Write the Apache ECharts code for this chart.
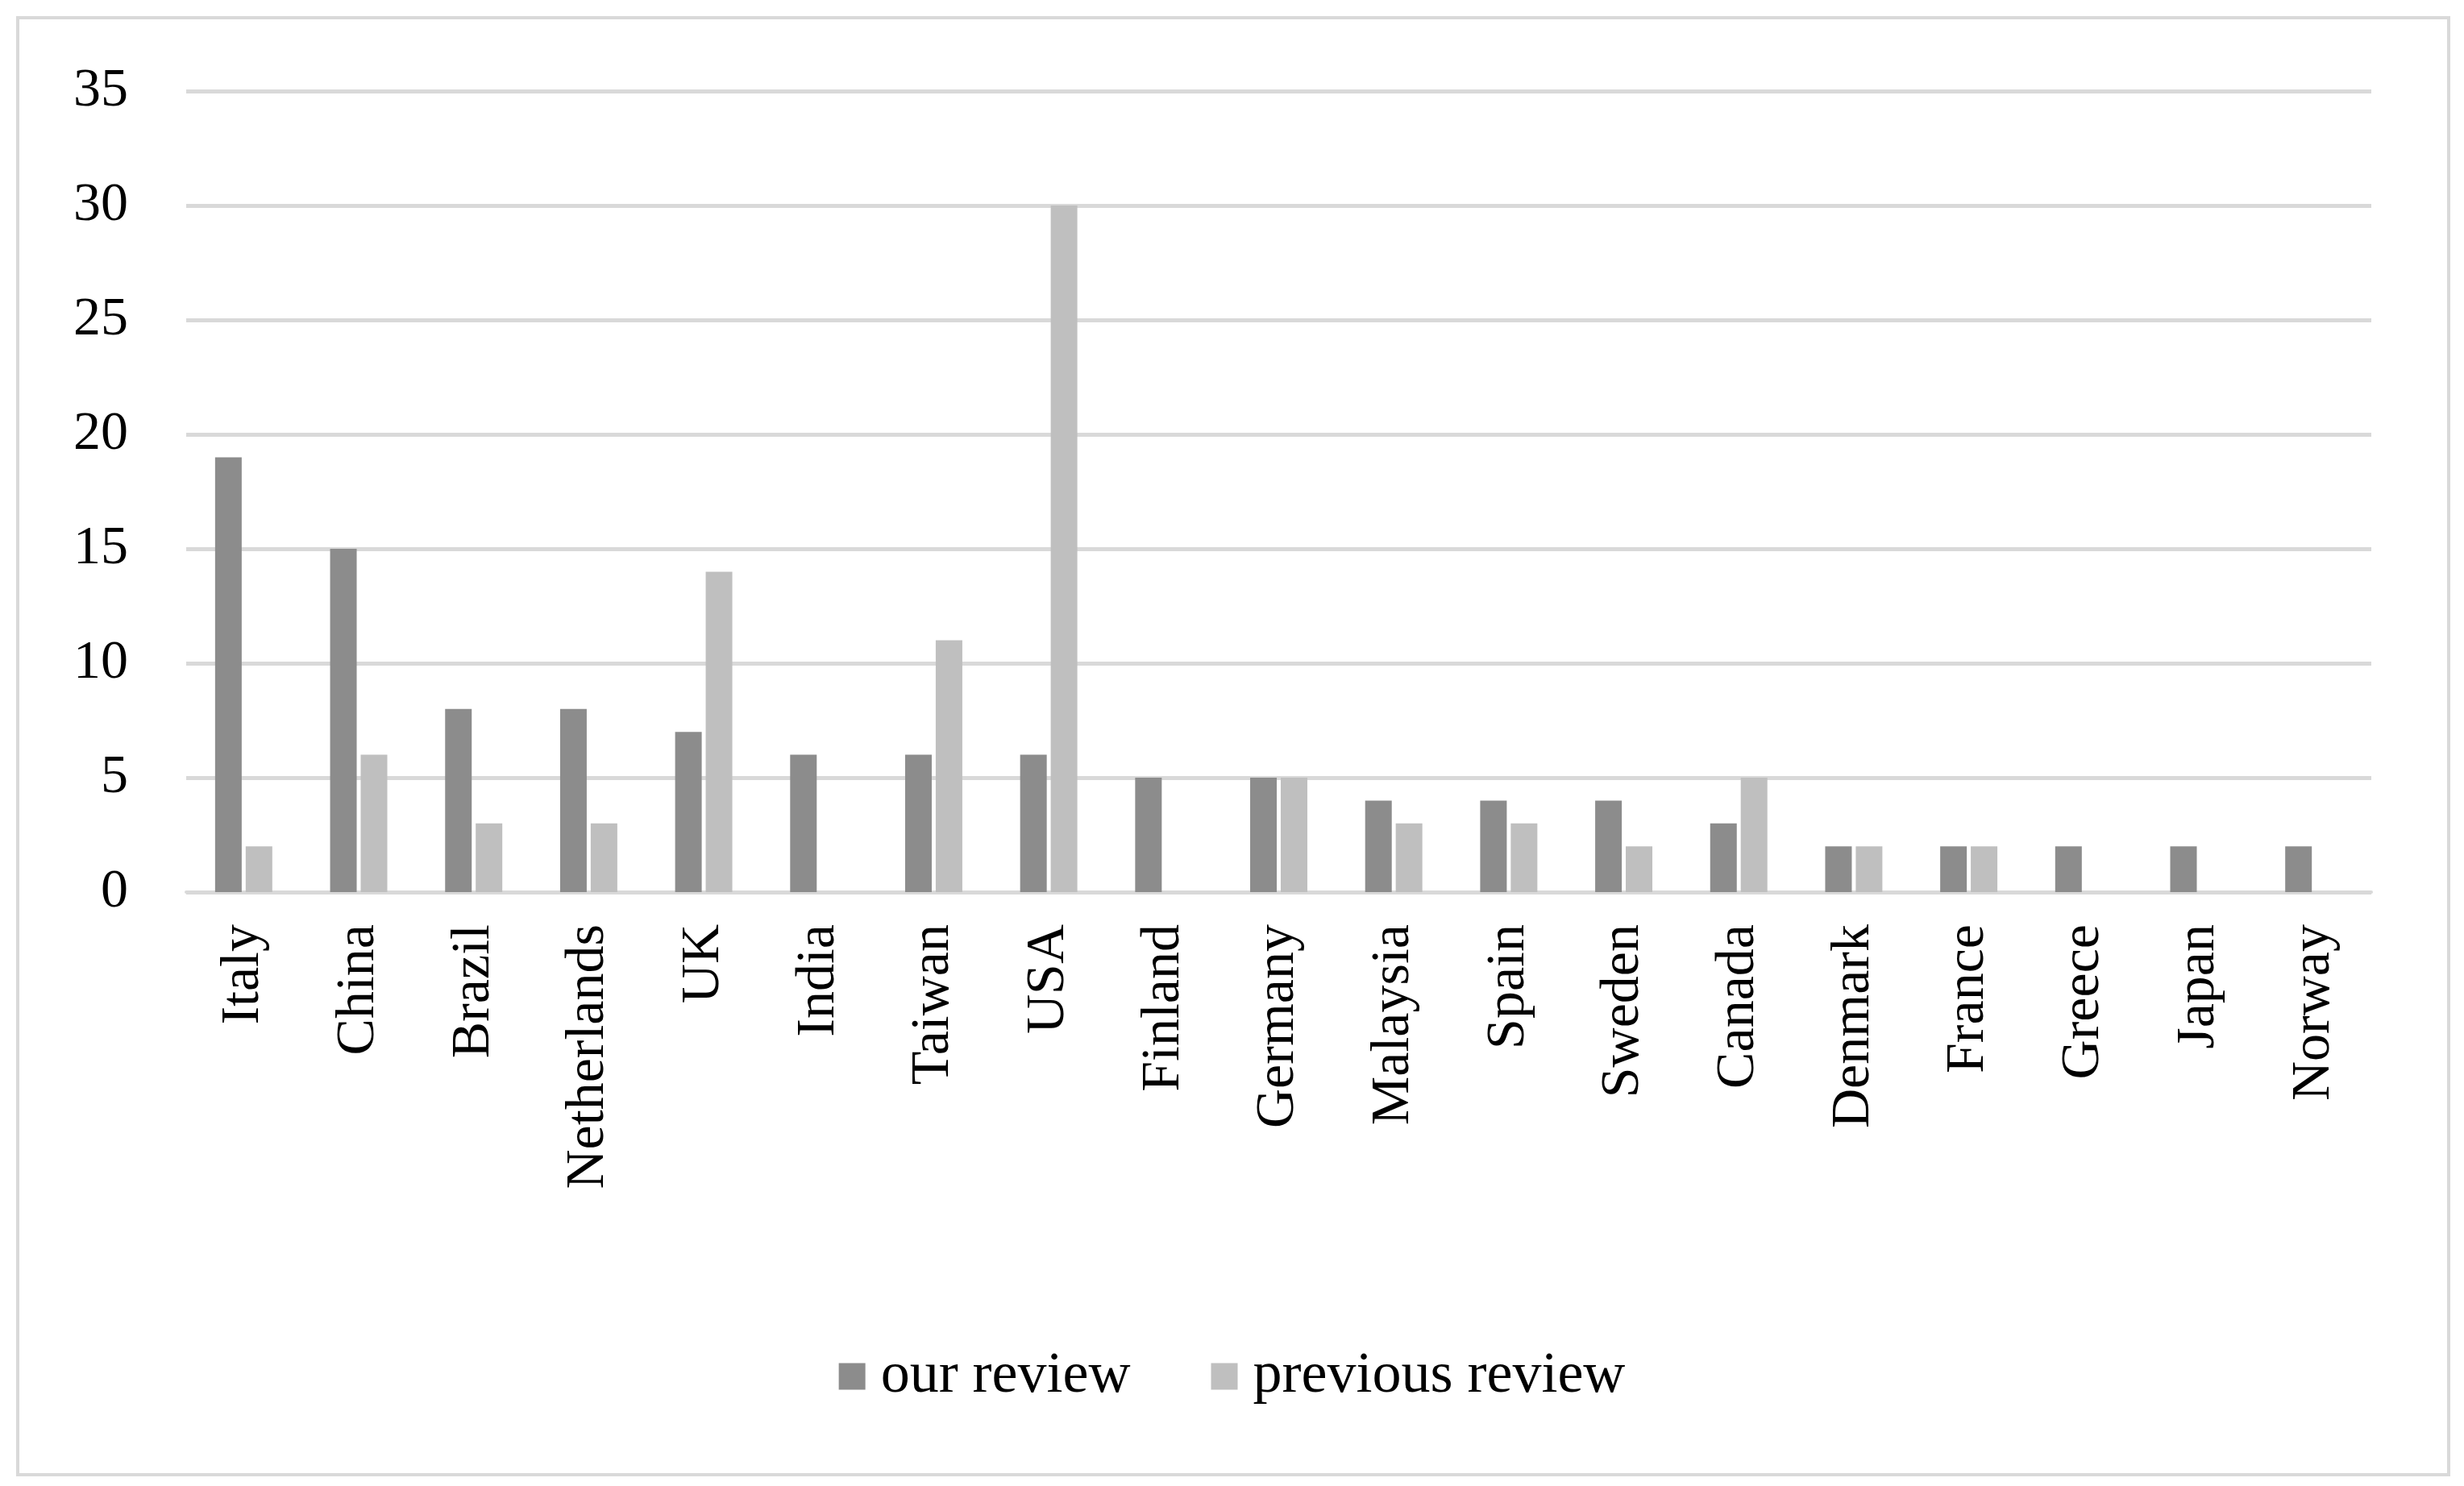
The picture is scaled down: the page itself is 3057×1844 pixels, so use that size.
<!DOCTYPE html>
<html><head><meta charset="utf-8">
<script src="https://cdn.jsdelivr.net/npm/echarts@6/dist/echarts.min.js"></script>
<style>html,body{margin:0;padding:0;background:#fff}#c{width:3057px;height:1844px}
#frame{position:absolute;left:20px;top:20px;width:3012px;height:1804px;border:4px solid #d9d9d9;pointer-events:none}</style>
</head><body><div id="c"></div><div id="frame"></div>
<script>
const categories=["Italy","China","Brazil","Netherlands","UK","India","Taiwan","USA","Finland","Germany","Malaysia","Spain","Sweden","Canada","Denmark","France","Greece","Japan","Norway"];
const ourReview=[19,15,8,8,7,6,6,6,5,5,4,4,4,3,2,2,2,2,2];
const previousReview=[2,6,3,3,14,null,11,30,null,5,3,3,2,5,2,2,null,null,null];
const yTicks={min:0,max:35,interval:5};
const font='"Liberation Serif","DejaVu Serif",serif';
const chart=echarts.init(document.getElementById('c'));
chart.setOption({
 animation:false,
 textStyle:{fontFamily:font},
 grid:{left:231,right:115,top:113,bottom:737},
 legend:{bottom:95,left:'center',itemWidth:33,itemHeight:33,itemGap:100,icon:'rect',
  textStyle:{fontFamily:font,fontSize:72,color:'#000',padding:[0,0,0,14]}},
 xAxis:{type:'category',data:categories,
  axisLine:{lineStyle:{color:'#d9d9d9',width:4}},axisTick:{show:false},
  axisLabel:{rotate:90,fontFamily:font,fontSize:68,color:'#000',margin:40,interval:0}},
 yAxis:{type:'value',min:yTicks.min,max:yTicks.max,interval:yTicks.interval,
  axisLine:{show:false},axisTick:{show:false},
  splitLine:{lineStyle:{color:'#d9d9d9',width:5}},
  axisLabel:{fontFamily:font,fontSize:68,color:'#000',margin:72}},
 series:[
  {name:'our review',type:'bar',data:ourReview,barWidth:33,barGap:'15%',itemStyle:{color:'#8c8c8c'}},
  {name:'previous review',type:'bar',data:previousReview,barWidth:33,itemStyle:{color:'#bfbfbf'}}
 ]
});
</script></body></html>
